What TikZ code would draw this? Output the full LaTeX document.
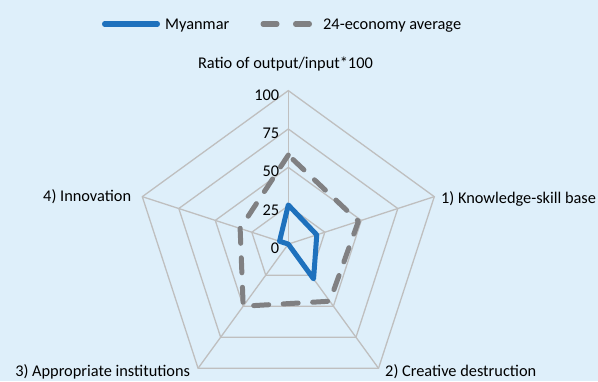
\documentclass[tikz,border=0pt]{standalone}
\usepackage{fontspec}
\setmainfont{Carlito}
\definecolor{bgblue}{RGB}{222,239,250}
\definecolor{gridgray}{RGB}{191,191,191}
\definecolor{mmblue}{RGB}{30,113,189}
\definecolor{avggray}{RGB}{128,128,130}
\begin{document}
\begin{tikzpicture}[x=1bp, y=1bp,
        grid/.style={draw=gridgray, line width=1.3bp},
        myanmar/.style={draw=mmblue, line width=5bp, line cap=round, line join=round},
        average/.style={draw=avggray, line width=5bp, line cap=round, line join=round,
            dash pattern=on 15bp off 14.5bp, dash phase=23bp},
        lbl/.style={font=\fontsize{16.4}{19}\selectfont, inner sep=0pt}
    ]
    % Background
    \fill[bgblue] (0,0) rectangle (598,381);
    \useasboundingbox (0,0) rectangle (598,381);
    % Legend
    \node[lbl, anchor=base west] (legmm) at (165,351.5) {Myanmar};
    \node[lbl, anchor=base west] (legavg) at (323,351.5) {24-economy average};
    \draw[myanmar] ([shift={(-60.5,5.5)}]legmm.base west) -- ([shift={(-7.5,5.5)}]legmm.base west);
    \draw[average, dash pattern=on 14bp off 18.5bp, dash phase=0bp]
        ([shift={(-60,5.5)}]legavg.base west) -- ([shift={(-13.5,5.5)}]legavg.base west);
    % Title
    \node[lbl, anchor=base] (title) at (285.5,312.7) {Ratio of output/input*100};
    \begin{scope}[shift={(288.3,136.9)}]
    % Spokes and rings
    \coordinate (c) at (0,0);
    \foreach \a [count=\i from 0] in {90,18,-54,-126,162}
        \coordinate (v\i) at (\a:153.5);
    \foreach \r in {25,50,75,100}
        \draw[grid] (90:{1.535*\r}) -- (18:{1.535*\r}) -- (-54:{1.535*\r})
            -- (-126:{1.535*\r}) -- (162:{1.535*\r}) -- cycle;
    \foreach \i in {0,...,4}
        \draw[grid] (c) -- (v\i);
    % Series
    \draw[average] (90:{1.535*58}) -- (18:{1.535*48}) -- (-54:{1.535*46})
        -- (-126:{1.535*50}) -- (162:{1.535*33}) -- cycle;
    \draw[myanmar] (90:{1.535*25.5}) -- (18:{1.535*19.5}) -- (-54:{1.535*28})
        -- (-126:{1.535*0}) -- (162:{1.535*6}) -- cycle;
    % Tick labels
    \foreach \r in {0,25,50,75,100}
        \node[lbl, anchor=base east] (t\r) at (-9,{1.535*\r-9.5}) {\r};
    % Axis labels
    \node[lbl, anchor=base west] (l1) at ([shift={(6.7,-6.7)}]v1) {1) Knowledge-skill base};
    \node[lbl, anchor=base west] (l2) at ([shift={(6.5,-8.5)}]v2) {2) Creative destruction};
    \node[lbl, anchor=base east] (l3) at ([shift={(-7.8,-8.5)}]v3) {3) Appropriate institutions};
    \node[lbl, anchor=base east] (l4) at ([shift={(-11,-5)}]v4) {4) Innovation};
    \end{scope}
\end{tikzpicture}
\end{document}
